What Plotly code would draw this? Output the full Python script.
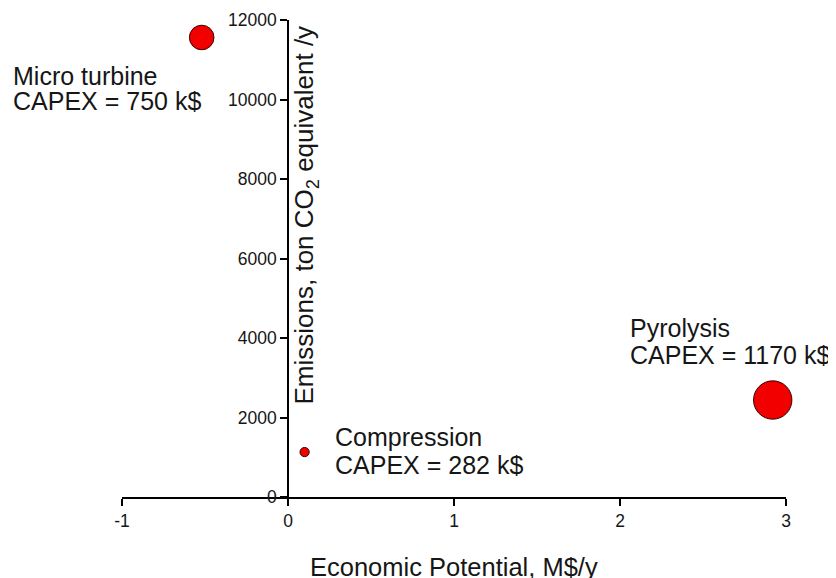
import plotly.graph_objects as go

technologies = ["Micro turbine", "Compression", "Pyrolysis"]
economic_potential = [-0.52, 0.10, 2.92]     # M$/y
emissions = [11560, 1130, 2440]              # ton CO2 eq / y
capex = [750, 282, 1170]                     # k$

x_ticks = [-1, 0, 1, 2, 3]
x_tick_labels = ["-1", "0", "1", "2", "3"]
y_ticks = [0, 2000, 4000, 6000, 8000, 10000, 12000]
y_tick_labels = ["0", "2000", "4000", "6000", "8000", "10000", "12000"]

# label placement (paper coords): left x, line-1 centre y, line-2 centre y
label_pos = {
    "Micro turbine": (-0.1672, 0.8834, 0.8296),
    "Compression": (0.3185, 0.1252, 0.0665),
    "Pyrolysis": (0.7613, 0.3543, 0.2971),
}

FONT = "Liberation Sans, Arial, sans-serif"
TXT = "#161616"

fig = go.Figure()
fig.add_trace(go.Scatter(
    x=economic_potential, y=emissions, mode="markers",
    marker=dict(size=[c / 30.5 for c in capex], sizemode="diameter",
                color="#f20000", opacity=1,
                line=dict(color="#3a0000", width=1)),
    cliponaxis=False, showlegend=False, hoverinfo="skip",
))

for name, cx in zip(technologies, capex):
    lx, ly1, ly2 = label_pos[name]
    for txt, ly in ((name, ly1), (f"CAPEX = {cx} k$", ly2)):
        fig.add_annotation(
            x=lx, y=ly, xref="paper", yref="paper", text=txt,
            showarrow=False, xanchor="left", yanchor="middle", align="left",
            font=dict(family=FONT, size=25, color=TXT),
        )

# y axis title to the right of the axis line
fig.add_annotation(
    x=0.2771, y=0.5922, xref="paper", yref="paper",
    text="Emissions, ton CO<sub>2</sub> equivalent /y",
    textangle=-90, showarrow=False, xanchor="center", yanchor="middle",
    font=dict(family=FONT, size=26, color=TXT),
)
# x axis title
fig.add_annotation(
    x=0.5, y=-0.1468, xref="paper", yref="paper",
    text="Economic Potential, M$/y", showarrow=False,
    xanchor="center", yanchor="middle",
    font=dict(family=FONT, size=25.5, color=TXT),
)

fig.update_layout(
    width=828, height=570,
    margin=dict(l=114, r=50, t=12, b=81, autoexpand=False),
    paper_bgcolor="white", plot_bgcolor="white",
    font=dict(family=FONT, size=17.5, color=TXT),
    xaxis=dict(range=[-1, 3], tickvals=x_ticks, ticktext=x_tick_labels,
               showgrid=False, zeroline=False, automargin=False,
               showline=True, linecolor="black", linewidth=1.5,
               ticks="outside", ticklen=7, tickcolor="black", tickwidth=1.5,
               anchor="y", fixedrange=True),
    yaxis=dict(range=[0, 12000], tickvals=y_ticks, ticktext=y_tick_labels,
               showgrid=False, zeroline=False, automargin=False,
               showline=True, linecolor="black", linewidth=1.5,
               ticks="outside", ticklen=7, tickcolor="black", tickwidth=1.5,
               anchor="free", position=0.25, fixedrange=True),
)

fig.write_html("out.html")
